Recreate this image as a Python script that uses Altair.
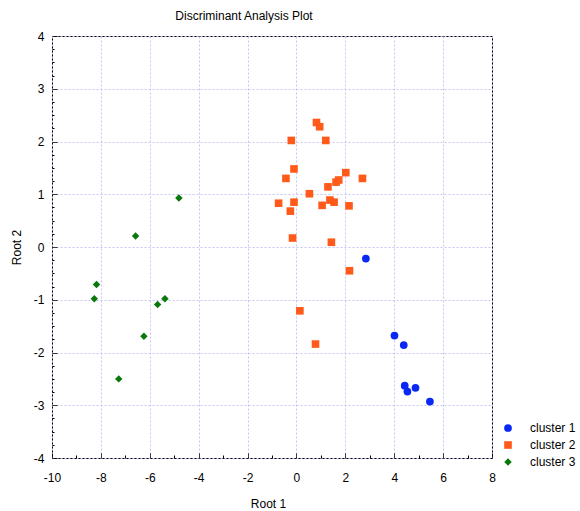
import altair as alt
import pandas as pd

# ---- data ----
c1_x = [2.84, 4.01, 4.39, 4.43, 4.54, 4.87, 5.46]
c1_y = [-0.22, -1.68, -1.86, -2.63, -2.74, -2.67, -2.93]

c2_x = [0.82, 0.95, -0.21, 1.20, -0.10, -0.43, 2.02, 2.70, 1.73, 1.62, 1.29, 0.53,
        -0.73, -0.10, 1.05, 1.37, 1.54, 2.15, -0.25, -0.16, 1.43, 2.17, 0.14, 0.78]
c2_y = [2.36, 2.28, 2.02, 2.02, 1.48, 1.30, 1.41, 1.30, 1.27, 1.23, 1.14, 1.01,
        0.83, 0.85, 0.79, 0.89, 0.85, 0.78, 0.68, 0.17, 0.09, -0.45, -1.21, -1.84]

c3_x = [-4.81, -6.58, -8.18, -8.27, -5.38, -5.68, -6.24, -7.27]
c3_y = [0.93, 0.21, -0.71, -0.98, -0.98, -1.09, -1.69, -2.50]

clusters = ["cluster 1", "cluster 2", "cluster 3"]
colors = ["#0a28f5", "#ff5a19", "#0a780a"]
shapes = ["circle", "square", "diamond"]
marker_sizes = [60, 56, 100]

x_ticks = list(range(-10, 9))                       # labelled every 2
y_ticks = [v / 4 for v in range(-16, 17)]           # labelled every 1

W, H = 440, 422
FONT = "Liberation Sans"
TICK = 5

rows = []
for name, xs, ys in zip(clusters, [c1_x, c2_x, c3_x], [c1_y, c2_y, c3_y]):
    for a, b in zip(xs, ys):
        rows.append({"Root 1": a, "Root 2": b, "cluster": name})
df = pd.DataFrame(rows)

xscale = alt.Scale(domain=[-10, 8], nice=False, zero=False)
yscale = alt.Scale(domain=[-4, 4], nice=False, zero=False)

X_MAJOR = "datum.value % 2 == 0"
Y_MAJOR = "datum.value % 1 == 0"
LBL = "(datum.value < 0 ? '-' + abs(datum.value) : '' + datum.value)"

common = dict(ticks=True, tickSize=TICK, tickColor="#000000", tickWidth=1,
              offset=-TICK, domain=False, grid=True, gridColor="#c4c4f6",
              gridDash=[2, 2], gridWidth=1, labelFlush=False, labelOverlap=False,
              labelFont=FONT, labelFontSize=12, labelColor="#000000",
              titleFont=FONT, titleFontSize=12, titleFontWeight="normal",
              titleColor="#000000")

x_axis = alt.Axis(values=x_ticks, labelPadding=14, titleX=216, titleY=45,
                  labelExpr=f"{X_MAJOR} ? {LBL} : ''",
                  gridOpacity={"condition": {"test": X_MAJOR, "value": 1}, "value": 0},
                  tickDash={"condition": {"test": X_MAJOR, "value": [1, 0]},
                            "value": [0, 2, 3, 0]},
                  **common)
y_axis = alt.Axis(values=y_ticks, labelPadding=8, titleX=-34,
                  labelExpr=f"{Y_MAJOR} ? {LBL} : ''",
                  gridOpacity={"condition": {"test": Y_MAJOR, "value": 1}, "value": 0},
                  tickDash={"condition": {"test": Y_MAJOR, "value": [1, 0]},
                            "value": [0, 3, 2, 0]},
                  **common)

chart = alt.Chart(df).mark_point(filled=True, opacity=1).encode(
    x=alt.X("Root 1:Q", scale=xscale, axis=x_axis),
    y=alt.Y("Root 2:Q", scale=yscale, axis=y_axis),
    color=alt.Color("cluster:N", scale=alt.Scale(domain=clusters, range=colors),
                    legend=alt.Legend(title=None, orient="none", legendX=450,
                                      legendY=386, labelFont=FONT, labelFontSize=12,
                                      labelColor="#000000",
                                      labelOffset=16, rowPadding=5, padding=0)),
    shape=alt.Shape("cluster:N", scale=alt.Scale(domain=clusters, range=shapes)),
    size=alt.Size("cluster:N", scale=alt.Scale(domain=clusters, range=marker_sizes)),
).properties(
    width=W, height=H,
    padding={"left": 52, "top": 36, "right": 88, "bottom": 53},
    autosize=alt.AutoSizeParams(type="none"),
    title=alt.TitleParams("Discriminant Analysis Plot", font=FONT, fontSize=12,
                          fontWeight="normal", color="#000000", anchor="middle",
                          dx=-28, offset=7),
    background="#ffffff",
).configure_view(stroke="#000000", strokeWidth=1)

chart.save("out.html", embed_options={"renderer": "svg", "actions": False})
